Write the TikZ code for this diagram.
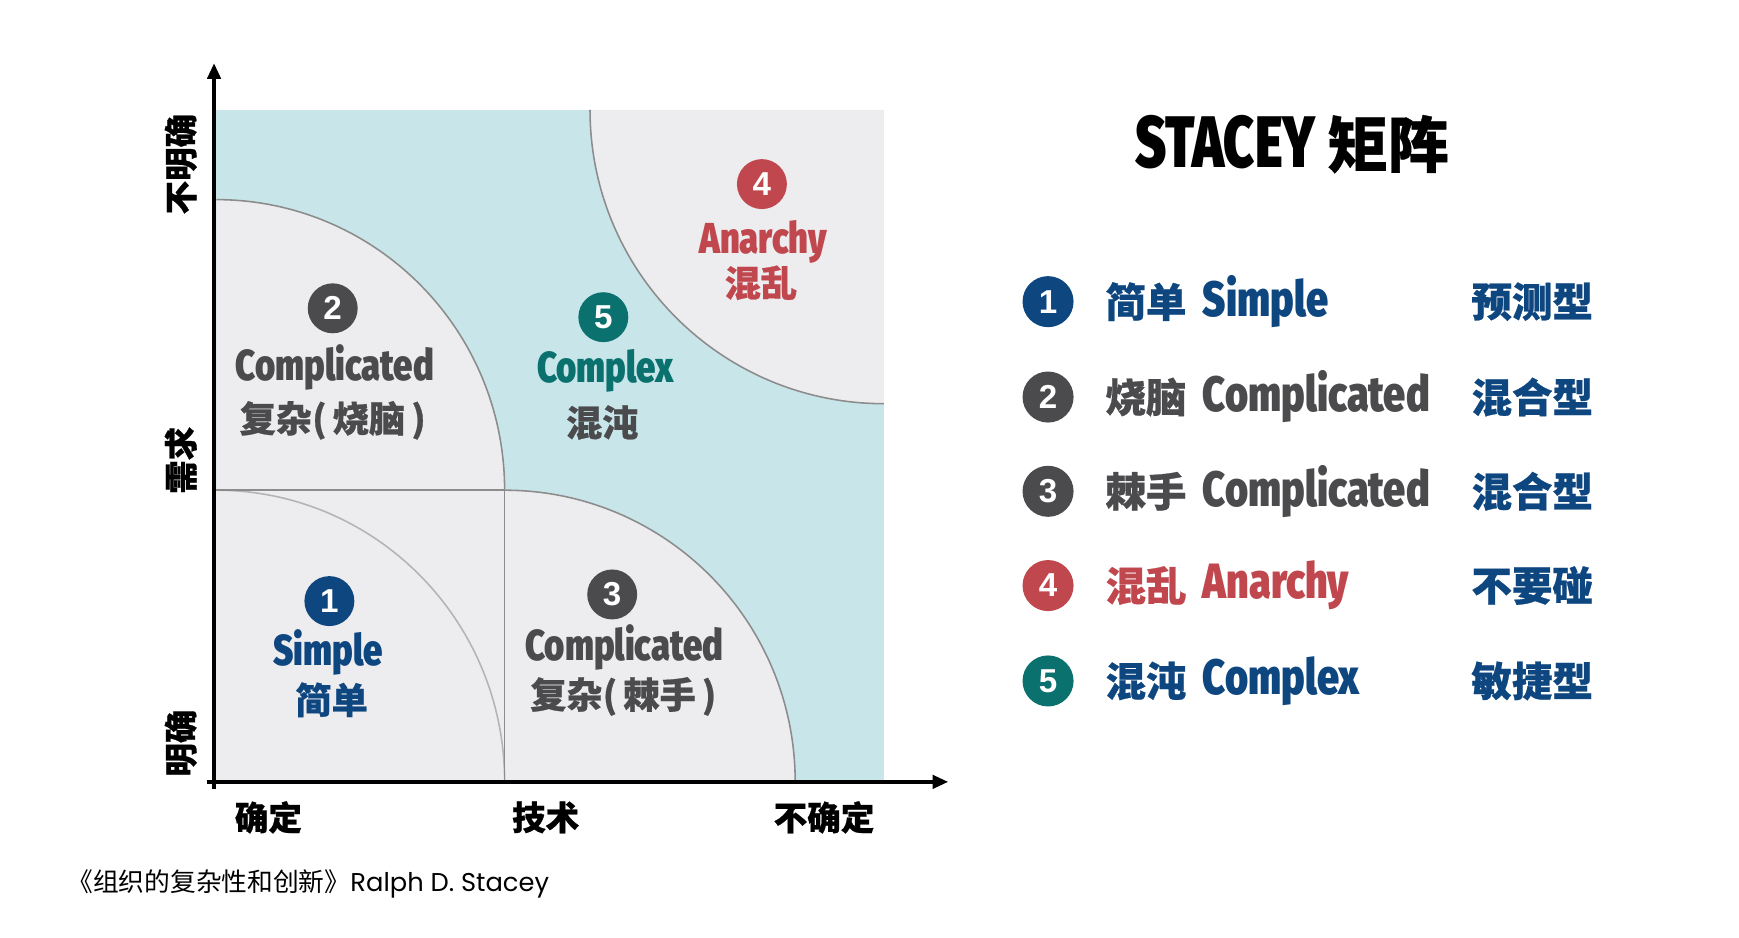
\documentclass[tikz,border=0pt]{standalone}
\usepackage{fontspec}
\usepackage{tikz}
\usetikzlibrary{calc,arrows.meta,positioning}
\newfontfamily\cjk{Noto Sans CJK SC}[BoldFeatures={FakeBold=0.6}]
\newfontfamily\impact{Fira Sans}[FakeStretch=0.8,BoldFont={Fira Sans Black}]
\newfontfamily\impacttitle{Fira Sans}[FakeStretch=0.73,BoldFont={Fira Sans Black}]
\newfontfamily\numfont{Liberation Sans}
\newfontfamily\gothic{Poppins}
\definecolor{simpleblue}{HTML}{0E4680}
\definecolor{compgray}{HTML}{4B4B4E}
\definecolor{anarred}{HTML}{C0474E}
\definecolor{cplxteal}{HTML}{0B716E}
\definecolor{zonecyan}{HTML}{C8E6EA}
\definecolor{zonegray}{HTML}{EDECEF}
\definecolor{arcgray}{HTML}{8C8C8C}
\definecolor{arclight}{HTML}{B4B4B4}
\begin{document}
\begin{tikzpicture}[x=0.01cm,y=0.01cm,
	numdot/.style={circle,fill=#1,text=white,minimum size=0.45cm,inner sep=0pt,font=\numfont\bfseries\fontsize{8.5}{8.5}\selectfont},
	entext/.style={text=#1,inner sep=0pt,font=\impact\bfseries\fontsize{11.1}{11.1}\selectfont},
	cntext/.style={text=#1,inner sep=0pt,font=\cjk\bfseries\fontsize{9.3}{9.3}\selectfont},
	lgen/.style={text=#1,inner sep=0pt,anchor=west,font=\impact\bfseries\fontsize{12.7}{12.7}\selectfont},
	lgcn/.style={text=#1,inner sep=0pt,anchor=west,font=\cjk\bfseries\fontsize{10.4}{10.4}\selectfont},
	axislabel/.style={inner sep=0pt,font=\cjk\bfseries\fontsize{8.6}{8.6}\selectfont}]
				\useasboundingbox (0,0) rectangle (1568,845);
				\coordinate (O) at (193,140);
				\coordinate (Ystart) at (193,134);
				\coordinate (Ytip) at (193,788);
				\coordinate (Xstart) at (187,140);
				\coordinate (Xtip) at (855,140);
				% 绘制背景区域
				\fill[zonecyan] (195,140) rectangle (797,746);
				\fill[zonegray] (195,140) rectangle (455,403);
				\fill[zonegray] (195,403) -- (195,665) arc[start angle=90,end angle=0,x radius=260,y radius=262] -- cycle;
				\fill[zonegray] (455,140) -- (455,403) arc[start angle=90,end angle=0,x radius=262,y radius=263] -- cycle;
				\fill[zonegray] (797,746) -- (532,746) arc[start angle=180,end angle=270,radius=265] -- cycle;
				% 绘制分界弧线
				\draw[arcgray,line width=0.4pt] (195,665) arc[start angle=90,end angle=0,x radius=260,y radius=262];
				\draw[arcgray,line width=0.4pt] (455,403) arc[start angle=90,end angle=0,x radius=262,y radius=263];
				\draw[arcgray,line width=0.4pt] (532,746) arc[start angle=180,end angle=270,radius=265];
				\draw[arclight,line width=0.4pt] (195,403) arc[start angle=90,end angle=0,x radius=260,y radius=263];
				\draw[arcgray,line width=0.6pt] (195,403) -- (455,403);
				\draw[arcgray,line width=0.4pt] (455,403) -- (455,140);
				% 坐标轴
				\draw[line width=0.9pt,-{Triangle[length=4pt,width=3.4pt]}] (Ystart) -- (Ytip);
				\draw[line width=0.9pt,-{Triangle[length=4pt,width=3.4pt]}] (Xstart) -- (Xtip);
				\node[axislabel] (x1) at (242,108) {确定};
				\node[axislabel] (x2) at (492,108) {技术};
				\node[axislabel] (x3) at (743,108) {不确定};
				\node[axislabel,rotate=90] (y1) at (163,175) {明确};
				\node[axislabel,rotate=90] (y2) at (163,430) {需求};
				\node[axislabel,rotate=90] (y3) at (163,697) {不明确};
				% 区域标注
				\node[numdot=simpleblue] (n1) at (297,303) {1};
				\node[entext=simpleblue] (en1) at (296,257) {Simple};
				\node[cntext=simpleblue] (cn1) at (299,214) {简单};
				\node[numdot=compgray] (n2) at (300,567) {2};
				\node[entext=compgray] (en2) at (302,514) {Complicated};
				\node[cntext=compgray] (cn2) at (300,466) {复杂(\,烧脑\,)};
				\node[numdot=compgray] (n3) at (552,309) {3};
				\node[entext=compgray] (en3) at (563,261) {Complicated};
				\node[cntext=compgray] (cn3) at (562,217) {复杂(\,棘手\,)};
				\node[numdot=anarred] (n4) at (687,679) {4};
				\node[entext=anarred] (en4) at (688,627) {Anarchy};
				\node[cntext=anarred] (cn4) at (686,590) {混乱};
				\node[numdot=cplxteal] (n5) at (544,559) {5};
				\node[entext=cplxteal] (en5) at (546,511) {Complex};
				\node[cntext=compgray] (cn5) at (543,464) {混沌};
				% 标题
				\node[inner sep=0pt] (title) at (1165,715) {\impacttitle\bfseries\fontsize{18.7}{18.7}\selectfont STACEY \cjk\bfseries\fontsize{15.6}{15.6}\selectfont 矩阵};
				% 图例
				\node[numdot=simpleblue,minimum size=0.46cm] (l1) at (945,573) {1};
				\node[lgcn=simpleblue] (lc1) at (996,573) {简单};
				\node[lgen=simpleblue] (le1) at (1084,573) {Simple};
				\node[lgcn=simpleblue] (lt1) at (1326,573) {预测型};
				\node[numdot=compgray,minimum size=0.46cm] (l2) at (945,487) {2};
				\node[lgcn=compgray] (lc2) at (996,487) {烧脑};
				\node[lgen=compgray] (le2) at (1084,487) {Complicated};
				\node[lgcn=simpleblue] (lt2) at (1326,487) {混合型};
				\node[numdot=compgray,minimum size=0.46cm] (l3) at (945,402) {3};
				\node[lgcn=compgray] (lc3) at (996,402) {棘手};
				\node[lgen=compgray] (le3) at (1084,402) {Complicated};
				\node[lgcn=simpleblue] (lt3) at (1326,402) {混合型};
				\node[numdot=anarred,minimum size=0.46cm] (l4) at (945,317) {4};
				\node[lgcn=anarred] (lc4) at (996,317) {混乱};
				\node[lgen=anarred] (le4) at (1084,317) {Anarchy};
				\node[lgcn=simpleblue] (lt4) at (1326,317) {不要碰};
				\node[numdot=cplxteal,minimum size=0.46cm] (l5) at (945,231) {5};
				\node[lgcn=simpleblue] (lc5) at (996,231) {混沌};
				\node[lgen=simpleblue] (le5) at (1084,231) {Complex};
				\node[lgcn=simpleblue] (lt5) at (1326,231) {敏捷型};
				% 出处
				\node[inner sep=0pt,anchor=west] (src) at (60,48) {\cjk\fontsize{6.6}{6.6}\selectfont 《组织的复杂性和创新》\gothic Ralph D. Stacey};
			\end{tikzpicture}
\end{document}
